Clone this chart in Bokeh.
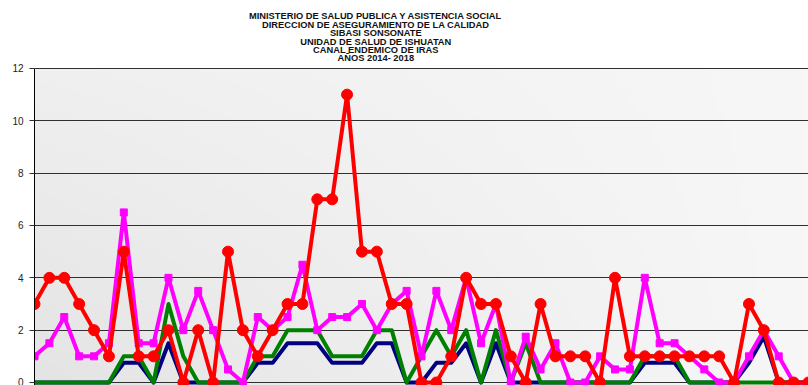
import numpy as np
from bokeh.plotting import figure
from bokeh.models import Range1d, FixedTicker, Label
from bokeh.embed import file_html
from bokeh.resources import INLINE

# Epidemiological weeks 1..53
weeks = list(range(1, 54))

# Endemic channel zones (cases per week)
zona_exito = [0, 0, 0, 0, 0, 0, 0.75, 0.75, 0, 1.5, 0, 0, 0, 0, 0, 0.75, 0.75, 1.5,
              1.5, 1.5, 0.75, 0.75, 0.75, 1.5, 1.5, 0, 0, 0.75, 0.75, 1.5, 0, 1.5, 0,
              0, 0, 0, 0, 0, 0, 0, 0, 0.75, 0.75, 0.75, 0, 0, 0, 0, 0.75, 1.75, 0, 0, 0]
zona_seguridad = [0, 0, 0, 0, 0, 0, 1, 1, 0, 3, 1, 0, 0, 0, 0, 1, 1, 2, 2, 2, 1, 1,
                  1, 2, 2, 0, 1, 2, 1, 2, 0, 2, 0, 1.5, 0, 0, 0, 0, 0, 0, 0, 1, 1, 1,
                  0, 0, 0, 0, 0, 0, 0, 0, 0]
zona_alerta = [1, 1.5, 2.5, 1, 1, 1.5, 6.5, 1.5, 1.5, 4, 2, 3.5, 2, 0.5, 0, 2.5, 2,
               2.5, 4.5, 2, 2.5, 2.5, 3, 2, 3, 3.5, 1, 3.5, 2, 4, 1.5, 3, 0, 1.75,
               0.5, 1.5, 0, 0, 1, 0.5, 0.5, 4, 1.5, 1.5, 1, 0.5, 0, 0, 1, 2, 1, 0, 0]
casos = [3, 4, 4, 3, 2, 1, 5, 1, 1, 2, 0, 2, 0, 5, 2, 1, 2, 3, 3, 7, 7, 11, 5, 5, 3,
         3, 0, 0, 1, 4, 3, 3, 1, 0, 3, 1, 1, 1, 0, 4, 1, 1, 1, 1, 1, 1, 1, 0, 3, 2,
         0, 0, 0]

y_ticks = [0, 2, 4, 6, 8, 10, 12]
y_max = 12

title_lines = [
    "MINISTERIO DE SALUD PUBLICA Y ASISTENCIA SOCIAL",
    "DIRECCION DE ASEGURAMIENTO DE LA CALIDAD",
    "SIBASI SONSONATE",
    "UNIDAD DE SALUD DE ISHUATAN",
    "CANAL ENDEMICO DE IRAS",
    "AÑOS 2014- 2018",
]

# vertical scale: 26.17 px per case; the frame spans the whole page height
PX_PER_UNIT = 26.17
HEIGHT = 385
Y0 = -3 / PX_PER_UNIT
Y_TOP = Y0 + HEIGHT / PX_PER_UNIT

p = figure(width=808, height=HEIGHT,
           x_range=Range1d(1, 53), y_range=Range1d(Y0, Y_TOP),
           output_backend="svg", toolbar_location=None, x_axis_location=None,
           min_border_left=34, min_border_right=0, min_border_top=0,
           min_border_bottom=0)
p.outline_line_color = None
p.background_fill_color = "#ffffff"
p.border_fill_color = "#ffffff"

# soft grey gradient behind the data area
ny, nx = 64, 128
gx, gy = np.meshgrid(np.linspace(0, 1, nx), np.linspace(0, 1, ny))
shade = (247 - 19 * (1 - gx) * (1 - 0.6 * gy)).astype(np.uint8)
img = np.empty((ny, nx), dtype=np.uint32)
view = img.view(dtype=np.uint8).reshape((ny, nx, 4))
view[..., 0] = shade
view[..., 1] = shade
view[..., 2] = shade
view[..., 3] = 255
p.image_rgba(image=[img], x=1, y=Y0, dw=52, dh=y_max - Y0, level="image")

# grid and axis
p.xgrid.visible = False
p.ygrid.ticker = FixedTicker(ticks=y_ticks)
p.ygrid.grid_line_color = "#303030"
p.ygrid.grid_line_width = 1
p.yaxis.ticker = FixedTicker(ticks=y_ticks)
p.yaxis.bounds = (Y0, y_max)
p.yaxis.axis_line_color = "#000000"
p.yaxis.major_tick_out = 5
p.yaxis.major_tick_in = 0
p.yaxis.major_tick_line_color = "#303030"
p.yaxis.minor_tick_line_color = None
p.yaxis.major_label_standoff = 6
p.yaxis.major_label_text_font = "Liberation Sans"
p.yaxis.major_label_text_font_size = "10px"
p.yaxis.major_label_text_color = "#222222"

# series
p.line(weeks, zona_exito, line_color="#000080", line_width=4, line_join="round")
p.line(weeks, zona_seguridad, line_color="#008000", line_width=4, line_join="round")
p.line(weeks, zona_alerta, line_color="#ff00ff", line_width=4, line_join="round")
p.scatter(weeks, zona_alerta, marker="square", size=7, fill_color="#ff00ff",
          line_color="#ff00ff")
p.line(weeks, casos, line_color="#ff0000", line_width=4, line_join="round")
p.scatter(weeks, casos, marker="circle", size=11, fill_color="#ff0000",
          line_color="#ff0000")

# title block above the data area (pixel rows measured from the top)
title_rows = [15.5, 24.0, 32.5, 41.0, 49.5, 57.5]
for txt, row in zip(title_lines, title_rows):
    p.add_layout(Label(x=23.93, y=Y_TOP - row / PX_PER_UNIT, text=txt,
                       text_align="center", text_baseline="middle",
                       text_font="Liberation Sans", text_font_style="bold",
                       text_font_size="9.3px", text_color="#111111"))

open("out.html", "w").write(file_html(p, INLINE))
